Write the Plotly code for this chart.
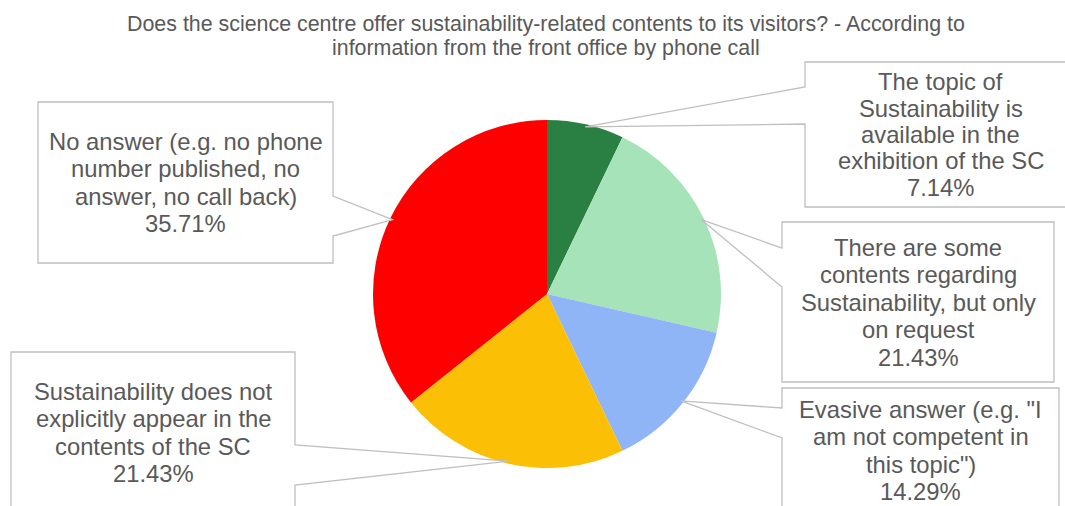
import math
import plotly.graph_objects as go

# ---- data ----
categories = [
    "The topic of Sustainability is available in the exhibition of the SC",
    "There are some contents regarding Sustainability, but only on request",
    "Evasive answer (e.g. \"I am not competent in this topic\")",
    "Sustainability does not explicitly appear in the contents of the SC",
    "No answer (e.g. no phone number published, no answer, no call back)",
]
values = [1, 3, 2, 3, 5]
label_lines = [
    ["The topic of", "Sustainability is", "available in the", "exhibition of the SC"],
    ["There are some", "contents regarding", "Sustainability, but only", "on request"],
    ["Evasive answer (e.g. \"I", "am not competent in", "this topic\")"],
    ["Sustainability does not", "explicitly appear in the", "contents of the SC"],
    ["No answer (e.g. no phone", "number published, no", "answer, no call back)"],
]
colors = ["#2A7F43", "#A7E3B8", "#8FB5F7", "#FBBF05", "#FF0000"]
title_lines = [
    "Does the science centre offer sustainability-related contents to its visitors? - According to",
    "information from the front office by phone call",
]

# ---- layout (pixels) ----
W, H = 1065, 506
CX, CY, R = 547, 294, 174
# boxes: (left, top, right, bottom, side of pointer, pointer y1, pointer y2, line height)
boxes = [
    (805, 62, 1076, 207, "left", 87, 124, 26.5),
    (782, 222, 1054, 382, "left", 248, 287, 27.5),
    (782, 388, 1059, 515, "left", 408, 438, 27.5),
    (11, 352, 295, 515, "right", 445, 485, 27.5),
    (38, 102, 333, 263, "right", 196, 236, 27.5),
]
FONT = "Liberation Sans, Arial, sans-serif"
TXT = "#595959"
BORDER = "#BFBFBF"


def px(x):
    return x / W


def py(y):
    return 1 - y / H


fig = go.Figure()
fig.add_trace(go.Pie(
    labels=categories, values=values, sort=False, direction="clockwise",
    rotation=0, marker=dict(colors=colors, line=dict(width=0)),
    textinfo="none", hoverinfo="label+percent", showlegend=False,
    domain=dict(x=[px(CX - R), px(CX + R)], y=[py(CY + R), py(CY - R)]),
))

total = sum(values)
shapes, annotations = [], []
cum = 0.0
for i, v in enumerate(values):
    mid = (cum + v / 2) / total * 2 * math.pi
    cum += v
    ax = CX + R * 0.985 * math.sin(mid)
    ay = CY - R * 0.985 * math.cos(mid)
    l, t, r, b, side, p1, p2, lh = boxes[i]
    if side == "left":
        pts = [(l, t), (r, t), (r, b), (l, b), (l, p2), (ax, ay), (l, p1)]
    else:
        pts = [(l, t), (r, t), (r, p1), (ax, ay), (r, p2), (r, b), (l, b)]
    path = "M " + " L ".join(f"{px(x):.5f},{py(y):.5f}" for x, y in pts) + " Z"
    shapes.append(dict(type="path", xref="paper", yref="paper", path=path,
                       fillcolor="white", line=dict(color=BORDER, width=1.3),
                       layer="above"))
    pct = f"{v / total * 100:.2f}%"
    lines = label_lines[i] + [pct]
    tcx = (l + r) / 2
    tcy = (t + min(b, 513)) / 2
    n = len(lines)
    for k, s in enumerate(lines):
        yy = tcy + (k - (n - 1) / 2) * lh
        annotations.append(dict(x=px(tcx), y=py(yy), xref="paper", yref="paper",
                                text=s, showarrow=False, xanchor="center",
                                yanchor="middle",
                                font=dict(family=FONT, size=23.8, color=TXT)))

for k, s in enumerate(title_lines):
    annotations.append(dict(x=px(546), y=py(24 + k * 24), xref="paper", yref="paper",
                            text=s, showarrow=False, xanchor="center", yanchor="middle",
                            font=dict(family=FONT, size=21.4, color=TXT)))

fig.update_layout(
    width=W, height=H, margin=dict(l=0, r=0, t=0, b=0),
    paper_bgcolor="white", plot_bgcolor="white",
    shapes=shapes, annotations=annotations,
)
fig.write_html("out.html")
